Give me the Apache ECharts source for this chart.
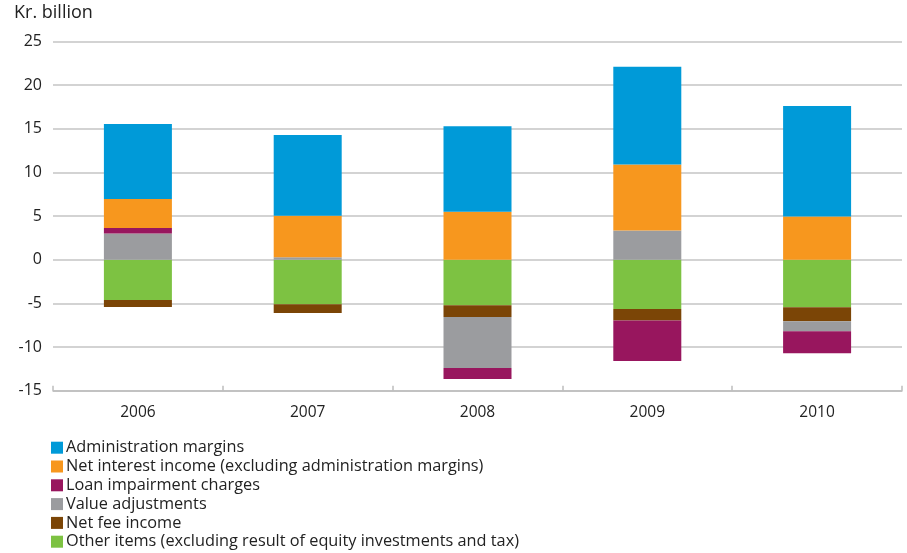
<!DOCTYPE html>
<html>
<head>
<meta charset="utf-8">
<script src="https://cdn.jsdelivr.net/npm/echarts@6/dist/echarts.min.js"></script>
<style>
  html, body { margin: 0; padding: 0; background: #fff; }
  #chart { width: 907px; height: 553px; }
</style>
</head>
<body>
<div id="chart"></div>
<script>
// Years on the category axis
const years = ['2006', '2007', '2008', '2009', '2010'];

// Components of the result, Kr. billion
const adminMargins   = [8.6, 9.25, 9.8, 11.2, 12.65];
const netInterest    = [3.3, 4.75, 5.5, 7.55, 4.95];
const loanImpairment = [0.65, 0, -1.25, -4.65, -2.5];
const valueAdjust    = [3.0, 0.3, -5.85, 3.35, -1.15];
const netFee         = [-0.8, -1.0, -1.35, -1.3, -1.6];
const otherItems     = [-4.6, -5.1, -5.2, -5.65, -5.45];

// Y axis range and step
const yMin = -15, yMax = 25, yStep = 5;

const names = {
  admin: 'Administration margins',
  interest: 'Net interest income (excluding administration margins)',
  loan: 'Loan impairment charges',
  value: 'Value adjustments',
  fee: 'Net fee income',
  other: 'Other items (excluding result of equity investments and tax)'
};

const colors = {
  admin: '#009ad8',
  interest: '#f7971e',
  loan: '#98165e',
  value: '#9b9c9f',
  fee: '#7b4506',
  other: '#7dc242'
};

const font = '"Open Sans", "Noto Sans", sans-serif';

function bar(key, data) {
  return {
    name: names[key],
    type: 'bar',
    stack: 'total',
    barWidth: 68,
    data: data,
    itemStyle: { color: colors[key] },
    emphasis: { disabled: true }
  };
}

const chart = echarts.init(document.getElementById('chart'), null, { renderer: 'canvas' });

chart.setOption({
  animation: false,
  textStyle: { fontFamily: font },
  grid: { left: 53, right: 5, top: 41.5, bottom: 162.3, containLabel: false },
  graphic: [{
    type: 'text',
    left: 14,
    top: 4,
    style: { text: 'Kr. billion', font: '18px ' + font, fill: '#222' }
  }],
  legend: {
    orient: 'vertical',
    left: 51,
    top: 439.7,
    height: 130,
    padding: 0,
    itemWidth: 12,
    itemHeight: 12,
    itemGap: 2.8,
    icon: 'rect',
    textStyle: { fontSize: 16.3, color: '#222', lineHeight: 16, padding: [0, 0, 0, -2] },
    data: [names.admin, names.interest, names.loan, names.value, names.fee, names.other]
  },
  xAxis: {
    type: 'category',
    data: years,
    position: 'bottom',
    axisLine: { onZero: false, lineStyle: { color: '#bdbdbd', width: 1.5 } },
    axisTick: { show: true, inside: true, length: 5, lineStyle: { color: '#bdbdbd', width: 1.5 } },
    axisLabel: { fontSize: 15.5, color: '#222', margin: 14 },
    splitLine: { show: false }
  },
  yAxis: {
    type: 'value',
    min: yMin,
    max: yMax,
    interval: yStep,
    axisLine: { show: false },
    axisTick: { show: false },
    axisLabel: { fontSize: 16, color: '#222', margin: 11 },
    splitLine: { lineStyle: { color: '#c4c4c4', width: 1.5 } }
  },
  series: [
    bar('other', otherItems),
    bar('fee', netFee),
    bar('value', valueAdjust),
    bar('loan', loanImpairment),
    bar('interest', netInterest),
    bar('admin', adminMargins)
  ]
});
</script>
</body>
</html>
